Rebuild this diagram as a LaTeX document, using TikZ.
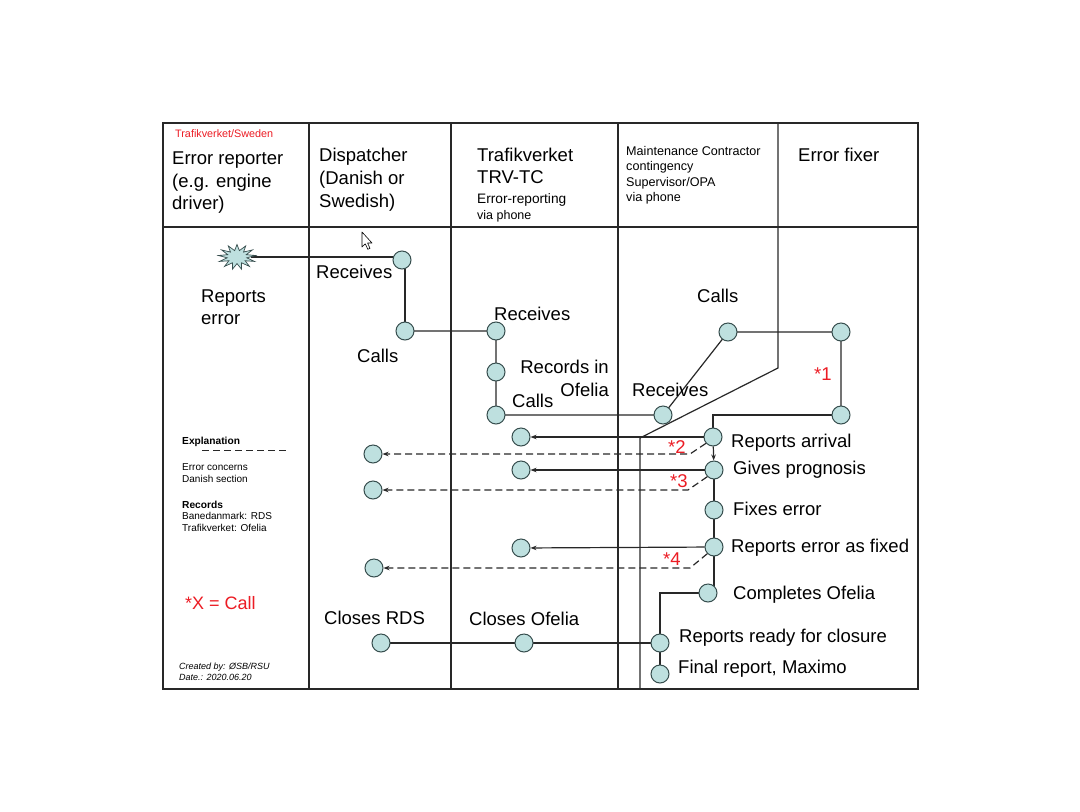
\documentclass[tikz,border=0pt]{standalone}
\usepackage{fontspec}
\setmainfont{Liberation Sans}
\usetikzlibrary{shapes.geometric,arrows.meta,backgrounds}
\definecolor{cfill}{RGB}{190,224,223}
\definecolor{cdraw}{RGB}{55,78,78}
\definecolor{lcol}{RGB}{40,40,40}
\definecolor{myred}{RGB}{236,28,36}
\begin{document}
\begin{tikzpicture}[x=1pt,y=-1pt,
  stn/.style={circle,draw=cdraw,fill=cfill,line width=1pt,minimum size=18pt,inner sep=0pt},
  lbl/.style={anchor=base west,inner sep=0pt,font=\fontsize{18.5}{22}\selectfont,text=black},
  lblr/.style={lbl,anchor=base east},
  maint/.style={anchor=base west,inner sep=0pt,font=\fontsize{12.6}{15}\selectfont},
  small/.style={anchor=base west,inner sep=0pt,font=\fontsize{10}{12}\selectfont},
  smallb/.style={small,font=\fontsize{10.2}{12}\selectfont\bfseries},
  tiny/.style={anchor=base west,inner sep=0pt,font=\fontsize{9}{11}\selectfont\itshape},
  redl/.style={lbl,text=myred},
  frame/.style={draw=lcol,line width=1.2pt},
  conn/.style={draw=lcol,line width=1.2pt},
  arr/.style={conn,-{Stealth[length=6pt,width=4.5pt]}},
  darr/.style={arr,dash pattern=on 7pt off 4pt},
]
\useasboundingbox (0,0) rectangle (1080,812);
% frame
\draw[frame] (163,123) rectangle (918,689);
\draw[frame] (163,227) -- (918,227);
\draw[frame] (309,123) -- (309,689);
\draw[frame] (451,123) -- (451,689);
\draw[frame] (618,123) -- (618,689);
\draw[frame] (778,123) -- (778,368) -- (640,438) -- (640,689);
% header texts
\node[anchor=base west,inner sep=0pt,font=\fontsize{10.8}{13}\selectfont,text=myred] (hred) at (175,137) {Trafikverket/Sweden};
\node[lbl] (h1a) at (172,164) {Error reporter};
\node[lbl] (h1b) at (172,187) {(e.g. engine};
\node[lbl] (h1c) at (172,209) {driver)};
\node[lbl] (h2a) at (319,161) {Dispatcher};
\node[lbl] (h2b) at (319,184) {(Danish or};
\node[lbl] (h2c) at (319,207) {Swedish)};
\node[lbl] (h3a) at (477,161) {Trafikverket};
\node[lbl] (h3b) at (477,183) {TRV-TC};
\node[anchor=base west,inner sep=0pt,font=\fontsize{13.7}{16}\selectfont] (h3c) at (477,203) {Error-reporting};
\node[anchor=base west,inner sep=0pt,font=\fontsize{12.5}{15}\selectfont] (h3d) at (477,219) {via phone};
\node[maint] (h4a) at (626,155) {Maintenance Contractor};
\node[maint] (h4b) at (626,170) {contingency};
\node[maint] (h4c) at (626,186) {Supervisor/OPA};
\node[maint] (h4d) at (626,201) {via phone};
\node[lbl] (h5a) at (798,161) {Error fixer};
% cursor
\draw[black,line width=0.6pt,fill=white,line join=round] (362,232) -- (362,247) -- (365.3,243.8) -- (367.8,249.3) -- (370,248.3) -- (367.6,243) -- (372,243) -- cycle;
% starburst
\node[star,star points=13,star point ratio=1.9,minimum size=25pt,inner sep=0pt,
  xscale=1.5,transform shape,draw=cdraw,fill=cfill,line width=0.7pt] (burst) at (237,257) {};
% stations
\node[stn] (D1) at (402,260) {};
\node[stn] (D2) at (405,331) {};
\node[stn] (T1) at (496,331) {};
\node[stn] (T2) at (496,372) {};
\node[stn] (T3) at (496,415) {};
\node[stn] (M1) at (663,415) {};
\node[stn] (M2) at (728,332) {};
\node[stn] (F1) at (841,332) {};
\node[stn] (F2) at (841,415) {};
\node[stn] (R1) at (713,437) {};
\node[stn] (G1) at (714,470) {};
\node[stn] (FX) at (714,510) {};
\node[stn] (RE) at (714,547) {};
\node[stn] (CO) at (708,593) {};
\node[stn] (RR) at (660,643) {};
\node[stn] (FR) at (660,674) {};
\node[stn] (CR) at (381,643) {};
\node[stn] (CF) at (524,643) {};
\node[stn] (S1) at (521,437) {};
\node[stn] (S2) at (521,470) {};
\node[stn] (S3) at (521,548) {};
\node[stn] (L1) at (373,454) {};
\node[stn] (L2) at (373,490) {};
\node[stn] (L3) at (374,568) {};
% bend coordinates
\coordinate (b1) at (690,454);
\coordinate (b2) at (688,490);
\coordinate (b3) at (690,568);
% plain connectors behind
\begin{scope}[on background layer]
\fill[white] (0,0) rectangle (1080,812);
\draw[conn] (burst.east) -- (D1.center |- burst.east);
\draw[conn] (D2 |- D1.center) -- (D2.center);
\draw[conn] (D2.center) -- (T1.center) -- (T2.center) -- (T3.center) -- (M1.center) -- (M2.center) -- (F1.center) -- (F2.center);
\draw[conn] (F2.center) -| (R1.center);
\draw[conn] (G1.center) -- (FX.center) -- (RE.center) -- (RE.center |- CO.center);
\draw[conn] (CO.center) -| (RR.center);
\draw[conn] (RR.center) -- (FR.center);
\draw[conn] (CR.center) -- (CF.center) -- (RR.center);
\end{scope}
% arrows
\draw[arr] (R1) -- (G1);
\draw[arr] (R1) -- (S1);
\draw[arr] (G1) -- (S2);
\draw[arr] (RE) -- (S3);
\draw[darr] (R1.222) -- (b1) -- (L1);
\draw[darr] (G1.225) -- (b2) -- (L2);
\draw[darr] (RE.225) -- (b3) -- (L3);
% labels
\node[lbl] (tRep1) at (201,302) {Reports};
\node[lbl] (tRep2) at (201,324) {error};
\node[lbl] (tD1) at (316,278) {Receives};
\node[lbl] (tD2) at (357,362) {Calls};
\node[lbl] (tT1) at (494,320) {Receives};
\node[lblr] (tT2a) at (609,373) {Records in};
\node[lblr] (tT2b) at (609,396) {Ofelia};
\node[lbl] (tT3) at (512,407) {Calls};
\node[lbl] (tM1) at (632,396) {Receives};
\node[lbl] (tM2) at (697,302) {Calls};
\node[lbl] (tR1) at (731,447) {Reports arrival};
\node[lbl] (tG1) at (733,474) {Gives prognosis};
\node[lbl] (tFX) at (733,515) {Fixes error};
\node[lbl] (tRE) at (731,552) {Reports error as fixed};
\node[lbl] (tCO) at (733,599) {Completes Ofelia};
\node[lbl] (tRR) at (679,642) {Reports ready for closure};
\node[lbl] (tFR) at (678,673) {Final report, Maximo};
\node[lbl] (tCR) at (324,624) {Closes RDS};
\node[lbl] (tCF) at (469,625) {Closes Ofelia};
\node[redl] (c1) at (814,380) {*1};
\node[redl] (c2) at (668,453) {*2};
\node[redl] (c3) at (670,487) {*3};
\node[redl] (c4) at (663,565) {*4};
% legend
\node[smallb] (ex) at (182,444) {Explanation};
\coordinate (exa) at (202,450);
\coordinate (exb) at (286,450);
\draw[draw=lcol,line width=0.8pt,dash pattern=on 7pt off 4pt] (exa) -- (exb);
\node[small] (ex1) at (182,470) {Error concerns};
\node[small] (ex2) at (182,482) {Danish section};
\node[smallb] (ex3) at (182,508) {Records};
\node[small] (ex4) at (182,519) {Banedanmark: RDS};
\node[small] (ex5) at (182,531) {Trafikverket: Ofelia};
\node[redl,font=\fontsize{18}{22}\selectfont] (xc) at (185,609) {*X = Call};
\node[tiny] (cr1) at (179,669.5) {Created by: ØSB/RSU};
\node[tiny] (cr2) at (179,680.5) {Date.: 2020.06.20};
\end{tikzpicture}
\end{document}
